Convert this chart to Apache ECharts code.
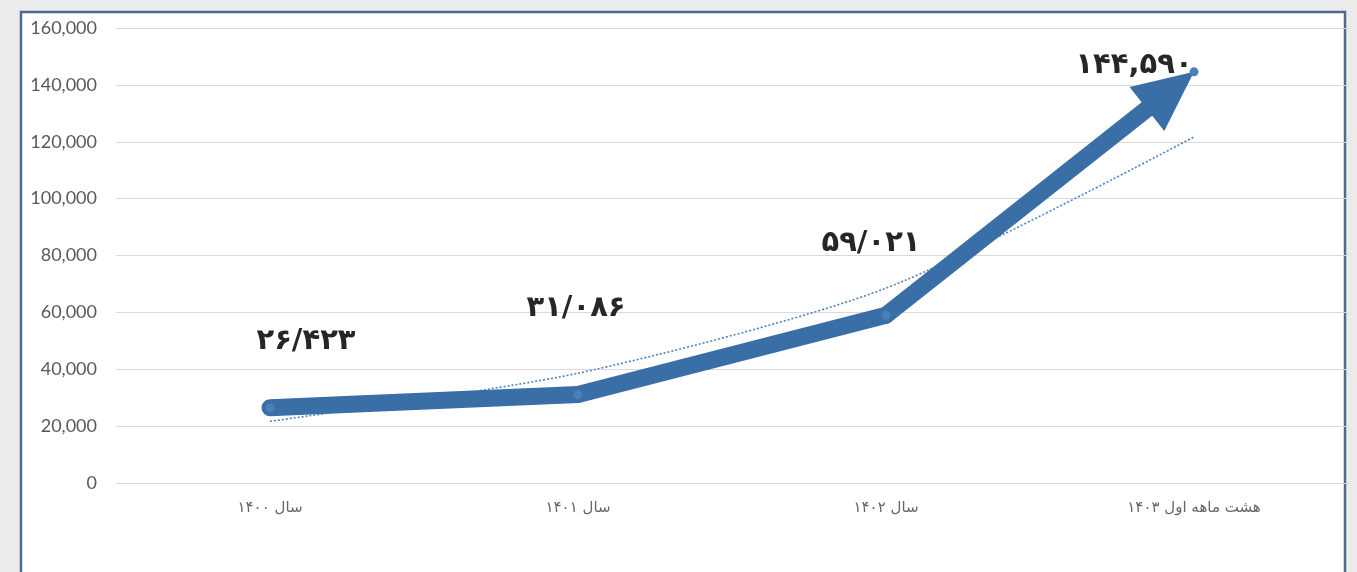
<!DOCTYPE html>
<html><head><meta charset="utf-8">
<script src="https://cdn.jsdelivr.net/npm/echarts@6/dist/echarts.min.js"></script>
<style>html,body{margin:0;padding:0;background:#ebebeb}#c{width:1357px;height:572px}</style>
</head><body><div id="c"></div>
<script>
// ---- data ----
const categories = ['سال ۱۴۰۰', 'سال ۱۴۰۱', 'سال ۱۴۰۲', 'هشت ماهه اول ۱۴۰۳'];
const values = [26423, 31086, 59021, 144590];
const valueLabels = ['۲۶/۴۲۳', '۳۱/۰۸۶', '۵۹/۰۲۱', '۱۴۴,۵۹۰'];
const trendValues = [21700, 38600, 68500, 121700];
const yMin = 0, yMax = 160000, yInterval = 20000;

// ---- style ----
const LINE = '#3a6ea6';
const labelOffsets = [[36, -66], [-2, -86], [-15, -72], [-60, -6]];

const chart = echarts.init(document.getElementById('c'), null, {renderer: 'canvas'});
const option = {
  backgroundColor: '#ebebeb',
  animation: false,
  graphic: [{
    type: 'rect', z: -10,
    shape: {x: 21, y: 12, width: 1324, height: 620},
    style: {fill: '#ffffff', stroke: '#4b6b8d', lineWidth: 2.5}
  }],
  grid: {left: 116, right: 9, top: 28, bottom: 89, containLabel: false},
  xAxis: {
    type: 'category', data: categories, boundaryGap: true,
    axisLine: {show: true, lineStyle: {color: '#d9d9d9', width: 1}},
    axisTick: {show: false},
    axisLabel: {color: '#666666', fontSize: 15, margin: 18, fontFamily: 'DejaVu Sans'}
  },
  yAxis: {
    type: 'value', min: yMin, max: yMax, interval: yInterval,
    axisLine: {show: false}, axisTick: {show: false},
    splitLine: {lineStyle: {color: '#d9d9d9', width: 1}},
    axisLabel: {
      color: '#595959', fontSize: 18, margin: 19, fontFamily: 'Lato',
      formatter: v => v.toLocaleString('en-US')
    }
  },
  series: [
    {
      type: 'line', name: 'trend', data: trendValues, smooth: 0.25,
      symbol: 'none', z: 1,
      lineStyle: {color: '#4f81bd', width: 1.6, type: [2, 2]}
    },
    {
      type: 'custom', name: 'arrowLine', z: 2,
      data: values.map((v, i) => [i, v]),
      renderItem: function (params, api) {
        const i = params.dataIndex;
        const children = [];
        const p = api.coord([i, values[i]]);
        if (i > 0) {
          const q = api.coord([i - 1, values[i - 1]]);
          let end = p;
          if (i === values.length - 1) {
            const dx = p[0] - q[0], dy = p[1] - q[1];
            const len = Math.hypot(dx, dy);
            const ux = dx / len, uy = dy / len;
            const L = 60, W = 28;
            const bx = p[0] - ux * L, by = p[1] - uy * L;
            end = [p[0] - ux * (L - 4), p[1] - uy * (L - 4)];
            children.push({
              type: 'polygon', z2: 5,
              shape: {points: [[p[0], p[1]], [bx - uy * W, by + ux * W], [bx + uy * W, by - ux * W]]},
              style: {fill: LINE}
            });
          }
          children.push({
            type: 'line', z2: 1,
            shape: {x1: q[0], y1: q[1], x2: end[0], y2: end[1]},
            style: {stroke: LINE, lineWidth: 17, lineCap: 'round'}
          });
        }
        return {type: 'group', children: children};
      }
    },
    {
      type: 'line', name: 'points', z: 3,
      data: values.map((v, i) => ({value: v, label: {offset: labelOffsets[i]}})),
      symbol: 'circle', symbolSize: 9,
      itemStyle: {color: '#4a7fbb'},
      lineStyle: {opacity: 0, width: 0},
      label: {
        show: true, position: 'inside',
        formatter: p => valueLabels[p.dataIndex],
        color: '#262626', fontSize: 29, fontWeight: 'bold', fontFamily: 'DejaVu Sans'
      }
    }
  ]
};
chart.setOption(option);
</script></body></html>
